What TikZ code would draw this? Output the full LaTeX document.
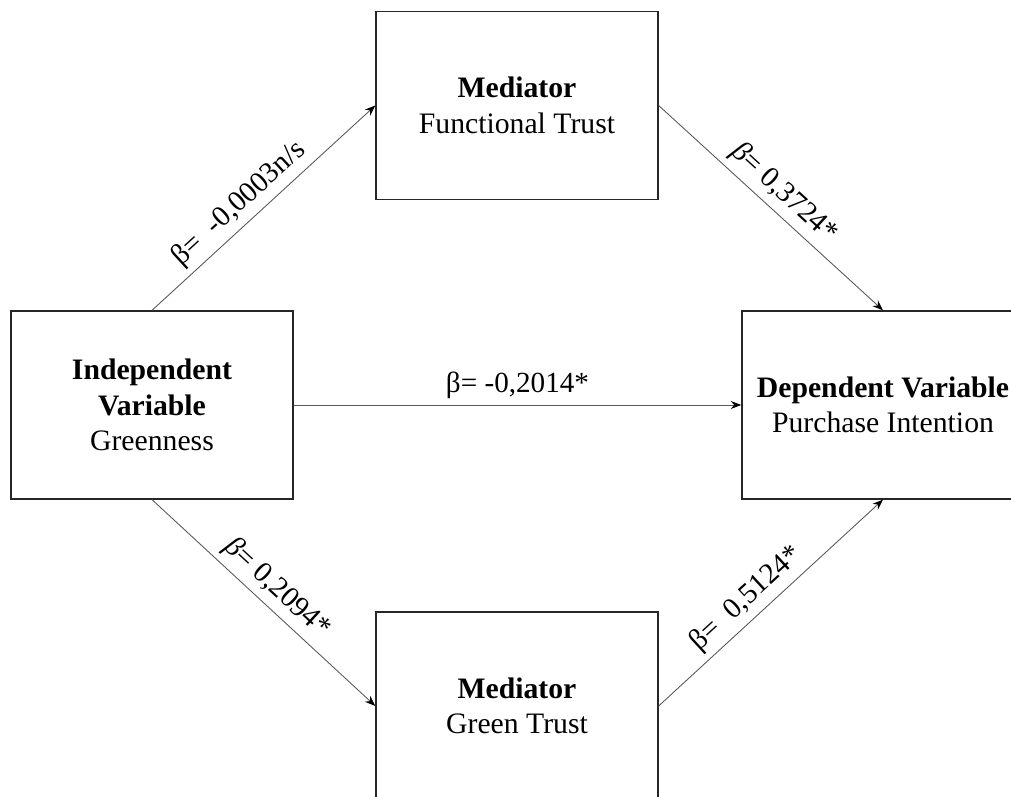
\documentclass[tikz,border=0pt]{standalone}
\usepackage{fontspec}
\setmainfont{Liberation Serif}
\usetikzlibrary{arrows.meta,positioning}

\begin{document}
\begin{tikzpicture}[
  >=Stealth,
  box/.style={draw=black!85, line width=0.75pt, minimum width=5.64cm,
              minimum height=3.76cm, align=center, inner sep=0pt,
              font=\fontsize{16.9}{20.3}\selectfont},
  arr/.style={-{Stealth[length=6pt,width=4.5pt,black]}, line width=0.5pt, draw=black!65},
  coef/.style={font=\fontsize{16.6}{19}\selectfont, midway, above, sloped},
]
\useasboundingbox (0,0) rectangle (20.22,15.94);
\clip (0,0) rectangle (20.22,15.94);

% variables
\node[box] (IV)  at (3.04, 7.84)  {\textbf{Independent}\\\textbf{Variable}\\Greenness};
\node[box] (FT)  at (10.34, 13.83) {\textbf{Mediator}\\Functional Trust};
\node[box] (DV)  at (17.66, 7.84) {\textbf{Dependent Variable}\\Purchase Intention};
\node[box] (GT)  at (10.34, 1.82) {\textbf{Mediator}\\Green Trust};

% paths
\draw[arr] (IV.north) -- (FT.west) node[coef, pos=0.45] {β=~~-0,0003n/s};
\draw[arr] (FT.east) -- (DV.north) node[coef] {\textit{β}= 0,3724*};
\draw[arr] (IV.east) -- (DV.west) node[coef] {β= -0,2014*};
\draw[arr] (IV.south) -- (GT.west) node[coef] {\textit{β}= 0,2094*};
\draw[arr] (GT.east) -- (DV.south) node[coef, pos=0.45] {β=~~0,5124*};
\end{tikzpicture}
\end{document}
